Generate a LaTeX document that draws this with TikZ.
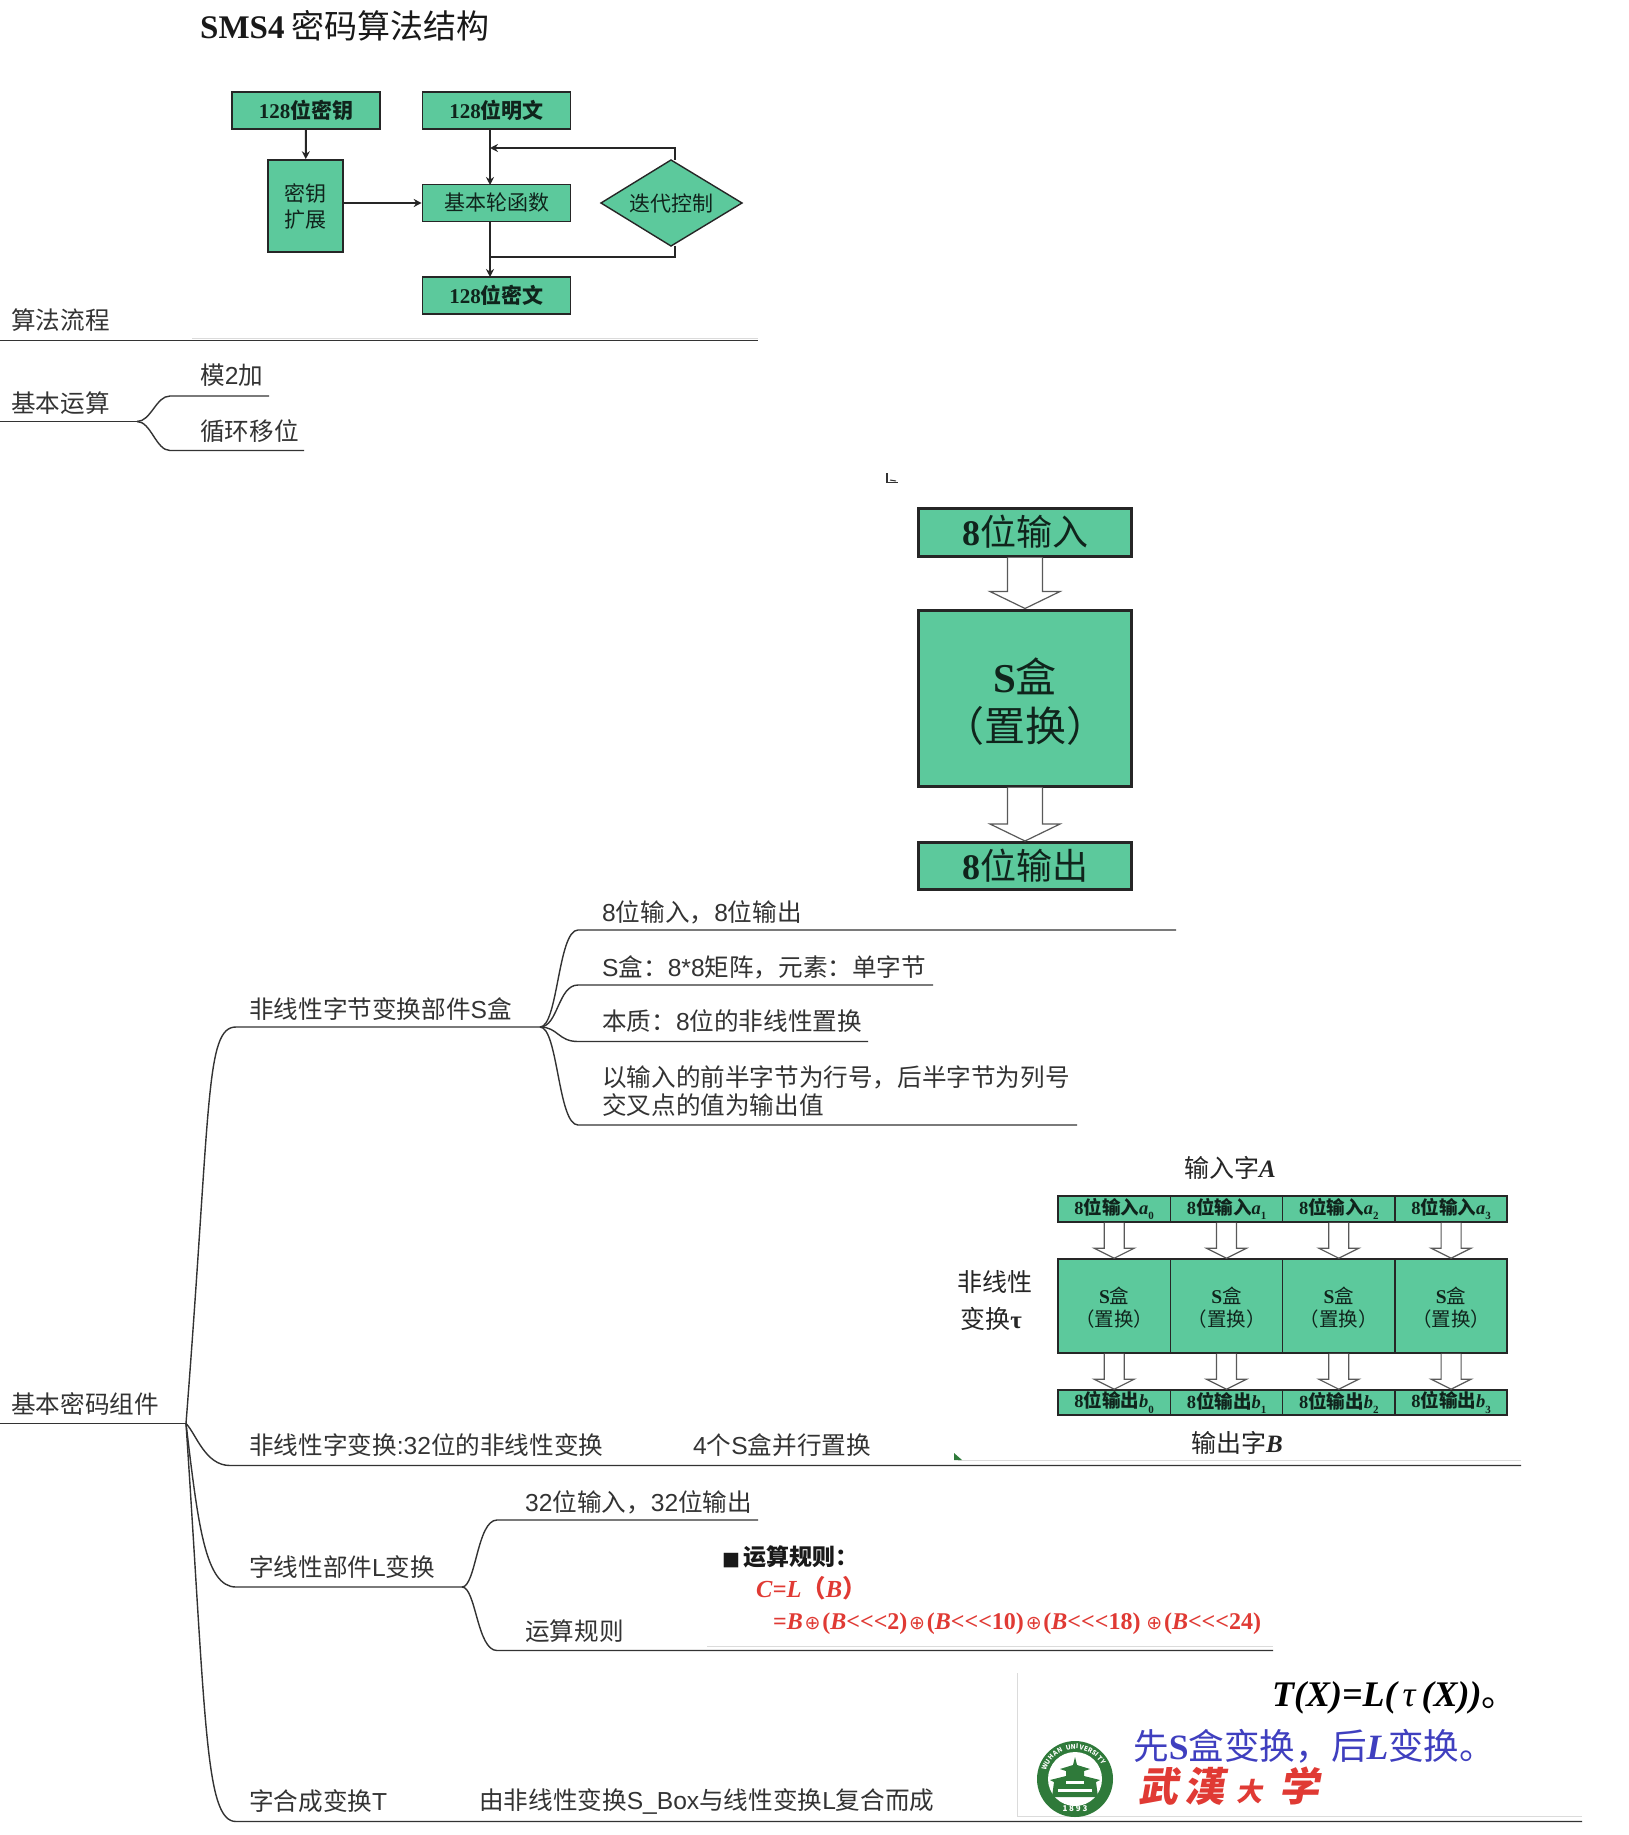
\documentclass[tikz,border=0pt]{standalone}
\usepackage{fontspec}
\usetikzlibrary{calc,arrows.meta}
\setmainfont{Noto Sans CJK SC}
\newfontfamily\sansl{Liberation Sans}
\newfontfamily\serifl{Liberation Serif}
\newfontfamily\dejav{DejaVu Sans}
\newcommand{\ls}[1]{{\sansl #1}}
\newcommand{\lb}[1]{{\serifl\bfseries #1}}
\newcommand{\li}[1]{{\serifl\bfseries\itshape #1}}
\newcommand{\ssb}[1]{\raisebox{-0.28em}{\fontsize{11}{11}\selectfont\lb{#1}}}
\newcommand{\fs}[1]{\fontsize{#1}{#1}\selectfont}
\newcommand{\oplusg}{{\dejav\fs{19}\kern1.8pt⊕\kern1.8pt}}
\definecolor{boxgreen}{HTML}{5CC99C}
\definecolor{inkd}{HTML}{333333}
\definecolor{boxtext}{HTML}{10241C}
\definecolor{redt}{HTML}{E03A34}
\definecolor{bluet}{HTML}{3F3FBF}
\definecolor{logog}{HTML}{2F7A3A}
\tikzset{
  mm/.style={anchor=west,inner sep=0pt,text=inkd,font=\fs{24.6}},
  mmline/.style={draw=inkd,line width=1.4pt},
  ghost/.style={draw=black!14,line width=1pt},
  gbox/.style={draw=black!85,fill=boxgreen,line width=1.6pt,inner sep=0pt,align=center,text=boxtext,font=\fs{21},minimum width=148pt,minimum height=37pt},
  bigbox/.style={gbox,line width=3pt,font=\fs{36},minimum width=213pt},
  cell/.style={gbox,font=\fs{18.5},minimum width=112.3pt,line width=1.6pt},
  flow/.style={draw=black!85,line width=2pt,-{Stealth[length=8pt,width=8pt]}},
  flowp/.style={draw=black!85,line width=2pt},
  hollow/.style={draw=black!65,fill=white,line width=1.2pt,line join=miter},
  captext/.style={inner sep=0pt,text=black!85,font=\fs{25}},
}
% hollow block arrow from node #1 to node #2
\newcommand{\hollowarrow}[5]{% from, to, half shaft, half head, head length
  \draw[hollow] ($(#1.south)+(-#3,0)$) -- ($(#2.north)+(-#3,-#5)$) -- ($(#2.north)+(-#4,-#5)$) -- (#2.north)
     -- ($(#2.north)+(#4,-#5)$) -- ($(#2.north)+(#3,-#5)$) -- ($(#1.south)+(#3,0)$);}
\begin{document}
\begin{tikzpicture}[x=1pt,y=-1pt]
\useasboundingbox (0,0) rectangle (1629,1835);
\fill[white] (0,0) rectangle (1629,1835);

% ---------- title
\node[anchor=west,inner sep=0pt,text=black!90,font=\fs{33}] (title) at (200,26) {\lb{SMS4} 密码算法结构};

% ---------- algorithm flow chart
\node[gbox,font=\bfseries\fs{21}] (key) at (306,110.5) {\lb{128}位密钥};
\node[gbox,font=\bfseries\fs{21}] (plain) at (496.5,110.5) {\lb{128}位明文};
\node[gbox,minimum width=75pt,minimum height=92pt] (expand) at (305.5,206) {密钥\\[5pt]扩展};
\node[gbox] (round) at (496.5,203) {基本轮函数};
\node[gbox,font=\bfseries\fs{21}] (cipher) at (496.5,295.5) {\lb{128}位密文};
\draw[draw=black!85,fill=boxgreen,line width=1.4pt] (601,203) coordinate (dl) -- (671,160) coordinate (dt) -- (742,203) coordinate (dr) -- (671,246) coordinate (db) -- cycle;
\node[inner sep=0pt,text=boxtext,font=\fs{21}] (ctrl) at (671,204) {迭代控制};
\coordinate (plainport) at (490,129);
\coordinate (roundtop) at (490,185);
\coordinate (roundbot) at (490,221);
\coordinate (ciphertop) at (490,277);
\coordinate (loopin) at (490,148);
\coordinate (loopout) at (490,257);
\coordinate (looptop) at (675,148);
\coordinate (loopbot) at (675,257);
\draw[flow] (key) -- (expand);
\draw[flow] (plainport) -- (roundtop);
\draw[flow] (expand.east |- round) -- (round.west);
\draw[flow] (roundbot) -- (ciphertop);
\draw[flow] (675,160) -- (looptop) -- (loopin);
\draw[flowp] (675,246) -- (loopbot) -- (loopout);

% ---------- branch 算法流程
\draw[ghost] (192,338) -- (758,338);
\coordinate (a0) at (0,340.5); \coordinate (a1) at (758,340.5);
\draw[mmline] (a0) -- (a1);
\node[mm] (t1) at (11,320) {算法流程};

% ---------- branch 基本运算
\coordinate (b0) at (0,421.5); \coordinate (bj) at (137,421.5);
\coordinate (b1s) at (170,396); \coordinate (b1e) at (269,396);
\coordinate (b2s) at (170,450.5); \coordinate (b2e) at (304,450.5);
\draw[mmline] (b0) -- (bj);
\draw[mmline] (bj) .. controls +(14,0) and +(-14,0) .. (b1s) -- (b1e);
\draw[mmline] (bj) .. controls +(14,0) and +(-14,0) .. (b2s) -- (b2e);
\node[mm] (t2) at (11,403) {基本运算};
\node[mm] (t21) at (200,375) {模\ls{2}加};
\node[mm] (t22) at (200,431) {循环移位};

% ---------- stray mark
\draw[draw=black!80,line width=1.6pt] (887,473) -- (887,482.5) -- (898,482.5);
\draw[draw=black!80,line width=1pt] (890,480) -- (896,481);

% ---------- S-box figure
\node[bigbox,minimum height=48pt] (in8) at (1025,532) {\lb{8}位输入};
\node[bigbox,minimum height=176pt] (sbox) at (1025,698) {};
\node[inner sep=0pt,text=boxtext,font=\fs{41}] (sboxa) at (1025,676) {\lb{S}盒};
\node[inner sep=0pt,text=boxtext,font=\fs{41}] (sboxb) at (1025,726) {（置换）};
\node[bigbox,minimum height=47pt] (out8) at (1025,866) {\lb{8}位输出};
\hollowarrow{in8}{sbox}{17.5}{35}{17}
\hollowarrow{sbox}{out8}{17.5}{35}{17}

% ---------- branch 基本密码组件
\coordinate (c0) at (0,1423.5); \coordinate (cj) at (186,1423.5);
\draw[mmline] (c0) -- (cj);
\node[mm] (t3) at (11,1404) {基本密码组件};

\coordinate (d1e) at (540,1027);
\coordinate (d1s) at (236,1027);
\draw[mmline] (cj) .. controls +(25,-320) and +(-31,0) .. (d1s) -- (d1e);
\node[mm] (t31) at (249,1009) {非线性字节变换部件\ls{S}盒};

\coordinate (e1s) at (578,930);  \coordinate (e1e) at (1176,930);
\coordinate (e2s) at (578,985);  \coordinate (e2e) at (933,985);
\coordinate (e3s) at (578,1041.5); \coordinate (e3e) at (868,1041.5);
\coordinate (e4s) at (578,1125); \coordinate (e4e) at (1077,1125);
\draw[mmline] (d1e) .. controls +(18,0) and +(-20,0) .. (e1s) -- (e1e);
\draw[mmline] (d1e) .. controls +(18,0) and +(-20,0) .. (e2s) -- (e2e);
\draw[mmline] (d1e) .. controls +(18,0) and +(-20,0) .. (e3s) -- (e3e);
\draw[mmline] (d1e) .. controls +(18,0) and +(-20,0) .. (e4s) -- (e4e);
\node[mm] (t311) at (602,912) {\ls{8}位输入，\ls{8}位输出};
\node[mm] (t312) at (602,967) {\ls{S}盒：\ls{8*8}矩阵，元素：单字节};
\node[mm] (t313) at (602,1021) {本质：\ls{8}位的非线性置换};
\node[mm] (t314) at (602,1077) {以输入的前半字节为行号，后半字节为列号};
\node[mm] (t315) at (602,1105) {交叉点的值为输出值};

% second branch
\coordinate (f1s) at (230,1465.5); \coordinate (f1e) at (1521,1465.5);
\draw[ghost] (958,1460) -- (1521,1460);
\draw[mmline] (cj) .. controls +(10,10) and +(-25,0) .. (f1s) -- (f1e);
\node[mm] (t32) at (249,1445) {非线性字变换\ls{:32}位的非线性变换};
\node[mm] (t321) at (693,1445) {\ls{4}个\ls{S}盒并行置换};
\fill[logog] (954,1453) -- (954,1460) -- (962,1460) -- cycle;

% word transform figure
\node[captext] (inA) at (1230,1168) {输入字\li{A}};
\node[captext] (outB) at (1237,1443) {输出字\li{B}};
\node[captext] (nl1) at (995,1282) {非线性};
\node[captext] (nl2) at (991,1319) {变换{\serifl\bfseries τ}};
\foreach \i/\x in {0/1114.2,1/1226.5,2/1338.8,3/1451.1}{
  \node[cell,minimum height=26pt,font=\bfseries\fs{18.5}] (ia\i) at (\x,1209) {\lb{8}位输入\li{a}\ssb{\i}};
  \node[cell,minimum height=94pt] (sb\i) at (\x,1306) {};
  \node[inner sep=0pt,text=boxtext,font=\fs{19.5}] (sa\i) at (\x,1296) {\lb{S}盒};
  \node[inner sep=0pt,text=boxtext,font=\fs{19.5}] (sc\i) at (\x,1319) {（置换）};
  \node[cell,minimum height=25pt,font=\bfseries\fs{18.5}] (ob\i) at (\x,1402.5) {\lb{8}位输出\li{b}\ssb{\i}};
  \hollowarrow{ia\i}{sb\i}{10}{20}{10}
  \hollowarrow{sb\i}{ob\i}{10}{20}{10}
}

% third branch
\coordinate (g1s) at (236,1587); \coordinate (g1e) at (462,1587);
\draw[mmline] (cj) .. controls +(12,100) and +(-31,0) .. (g1s) -- (g1e);
\node[mm] (t33) at (249,1567) {字线性部件\ls{L}变换};
\coordinate (h1s) at (497,1520); \coordinate (h1e) at (758,1520);
\coordinate (h2s) at (497,1650.5); \coordinate (h2e) at (1273,1650.5);
\draw[draw=black!14,line width=1pt] (707,1646) -- (1273,1646);
\draw[mmline] (g1e) .. controls +(14,0) and +(-20,0) .. (h1s) -- (h1e);
\draw[mmline] (g1e) .. controls +(14,0) and +(-20,0) .. (h2s) -- (h2e);
\node[mm] (t331) at (525,1502) {\ls{32}位输入，\ls{32}位输出};
\node[mm] (t332) at (525,1631) {运算规则};
\node[anchor=west,inner sep=0pt,text=black!90,font=\bfseries\fs{23}] (rule0) at (722,1557) {{\dejav\fs{19}■}\,运算规则：};
\node[anchor=west,inner sep=0pt,text=redt,font=\bfseries\fs{24.5}] (rule1) at (756,1588) {\li{C=L}（\li{B}）};
\node[anchor=west,inner sep=0pt,text=redt,font=\fs{24}] (rule2) at (773,1624) {\lb{=}\li{B}\oplusg\lb{(}\li{B}\lb{<<<2)}\oplusg\lb{(}\li{B}\lb{<<<10)}\oplusg\lb{(}\li{B}\lb{<<<18)}\,\oplusg\lb{(}\li{B}\lb{<<<24)}};

% fourth branch
\coordinate (k1s) at (236,1821.5); \coordinate (k1e) at (1582,1821.5);
\draw[ghost] (1017,1673) -- (1017,1816) -- (1582,1816);
\draw[mmline] (cj) .. controls +(20,300) and +(-31,0) .. (k1s) -- (k1e);
\node[mm] (t34) at (249,1801) {字合成变换\ls{T}};
\node[mm] (t341) at (479,1801) {由非线性变换\ls{S\_Box}与线性变换\ls{L}复合而成};

% T(X) slide
\node[anchor=west,inner sep=0pt,text=black,font=\fs{36}] (tx) at (1272,1698) {\li{T(X)=L(}\,{\serifl\itshape τ}\,\li{(X))}。};
\node[anchor=west,inner sep=0pt,text=bluet,font=\fs{35.6}] (order) at (1133,1746) {先\lb{S}盒变换，后\li{L}变换。};
\node[anchor=west,inner sep=0pt,text=redt,font=\bfseries\fs{40},xslant=0.18] (whu) at (1141,1786) {武\hspace{6pt}漢\hspace{12pt}{\fs{26}大}\hspace{17pt}学};
% logo
\fill[logog] (1075,1779) circle[radius=38pt];
\fill[white] (1075,1779) circle[radius=27pt];
\foreach \c/\a in {W/158,U/148,H/138,A/128,N/118,U/102,N/93,I/86,V/78,E/70,R/62,S/54,I/48,T/40,Y/31}{
  \node[inner sep=0pt,text=white,font=\bfseries\fs{6.5},rotate=\a-90] (lg\a) at ({1075+32.5*cos(\a)},{1779-32.5*sin(\a)}) {\c};
}
\node[inner sep=0pt,text=white,font=\bfseries\fs{8}] (yr) at (1075,1809) {1 8 9 3};
\fill[logog] (1075,1757) -- (1077,1765) -- (1090,1769) -- (1084,1771) -- (1084,1776) -- (1100,1780) -- (1096,1782) -- (1098,1797) -- (1052,1797) -- (1054,1782) -- (1050,1780) -- (1066,1776) -- (1066,1771) -- (1060,1769) -- (1073,1765) -- cycle;
\fill[white] (1066,1781) rectangle (1084,1784);
\fill[white] (1058,1789) rectangle (1092,1792);
\end{tikzpicture}
\end{document}
